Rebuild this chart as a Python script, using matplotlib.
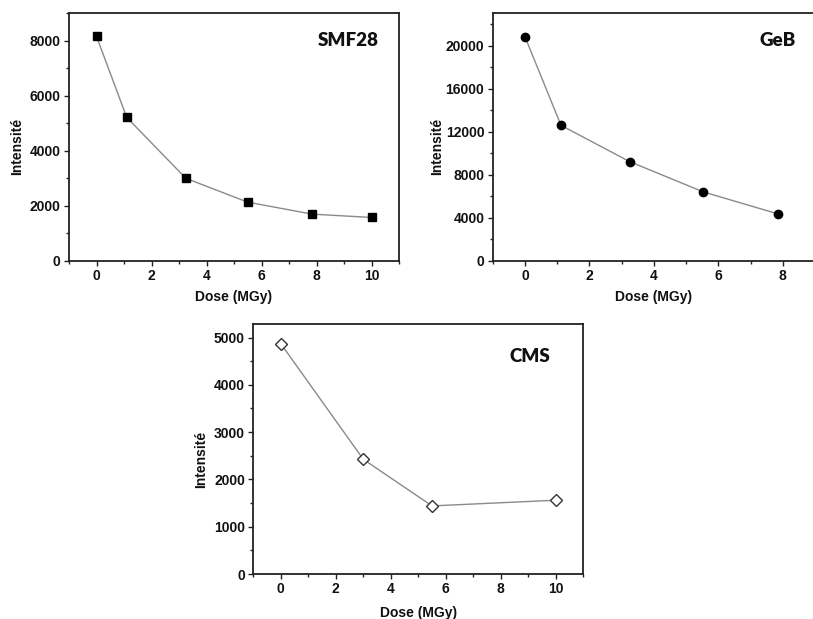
import matplotlib
matplotlib.use("Agg")
import matplotlib.pyplot as plt
from matplotlib.ticker import MultipleLocator

# Data
smf_dose = [0, 1.1, 3.25, 5.5, 7.85, 10]
smf_int = [8150, 5210, 3000, 2135, 1700, 1580]

geb_dose = [0, 1.12, 3.25, 5.53, 7.84]
geb_int = [20830, 12580, 9210, 6400, 4360]

cms_dose = [0, 3, 5.5, 10]
cms_int = [4870, 2425, 1440, 1560]

xlabel = "Dose (MGy)"
ylabel = "Intensité"

W, H = 813, 619
fig = plt.figure(figsize=(W / 100, H / 100), dpi=100)

def px_axes(l, t, r, b):
    return fig.add_axes([l / W, 1 - b / H, (r - l) / W, (b - t) / H])

tick_font = dict(family="Liberation Sans", weight="bold", size=10)
label_font = dict(family="Liberation Sans", weight="bold", size=10)
panel_font = dict(family="Lato", weight="heavy", size=13.5)

def style(ax, xlim, ylim, xmaj, xmin, ymaj, ymin):
    ax.set_xlim(*xlim)
    ax.set_ylim(*ylim)
    ax.xaxis.set_major_locator(MultipleLocator(xmaj))
    ax.xaxis.set_minor_locator(MultipleLocator(xmin))
    ax.yaxis.set_major_locator(MultipleLocator(ymaj))
    ax.yaxis.set_minor_locator(MultipleLocator(ymin))
    ax.tick_params(which="both", direction="out", top=False, right=False,
                   color="#222222", width=1.0)
    ax.tick_params(which="major", length=3.5, pad=2.5)
    ax.tick_params(which="minor", length=2)
    for s in ax.spines.values():
        s.set_linewidth(1.3)
        s.set_color("#222222")
    for lab in ax.get_xticklabels() + ax.get_yticklabels():
        lab.set_fontfamily(tick_font["family"])
        lab.set_fontweight("bold")
        lab.set_fontsize(tick_font["size"])
        lab.set_color("#111111")
    ax.set_xlabel(xlabel, labelpad=5, color="#111111", **label_font)
    ax.set_ylabel(ylabel, color="#111111", **label_font)

# SMF28
ax1 = px_axes(69, 13, 399, 261)
ax1.plot(smf_dose, smf_int, color="#8a8a8a", lw=1.0, marker="s", ms=5.5,
         mfc="black", mec="black", zorder=3)
style(ax1, (-1, 11), (0, 9000), 2, 1, 2000, 1000)
ax1.yaxis.set_label_coords(-0.136, 0.46)
ax1.text(0.94, 0.89, "SMF28", transform=ax1.transAxes, ha="right", va="center",
         color="#111111", **panel_font)

# GeB
ax2 = px_axes(492.7, 13.3, 815, 260.7)
ax2.plot(geb_dose, geb_int, color="#8a8a8a", lw=1.0, marker="o", ms=6,
         mfc="black", mec="black", zorder=3)
style(ax2, (-1, 9), (0, 23000), 2, 1, 4000, 2000)
ax2.yaxis.set_label_coords(-0.152, 0.46)
ax2.text(0.94, 0.89, "GeB", transform=ax2.transAxes, ha="right", va="center",
         color="#111111", **panel_font)

# CMS
ax3 = px_axes(253.3, 324.3, 583.3, 574)
ax3.plot(cms_dose, cms_int, color="#8a8a8a", lw=1.0, marker="D", ms=6.5,
         mfc="white", mec="#333333", mew=1.0, zorder=3)
style(ax3, (-1, 11), (0, 5280), 2, 1, 1000, 500)
ax3.yaxis.set_label_coords(-0.137, 0.46)
ax3.xaxis.labelpad = 7
ax3.text(0.9, 0.87, "CMS", transform=ax3.transAxes, ha="right", va="center",
         color="#111111", **panel_font)

fig.savefig("out.png", dpi=100)
